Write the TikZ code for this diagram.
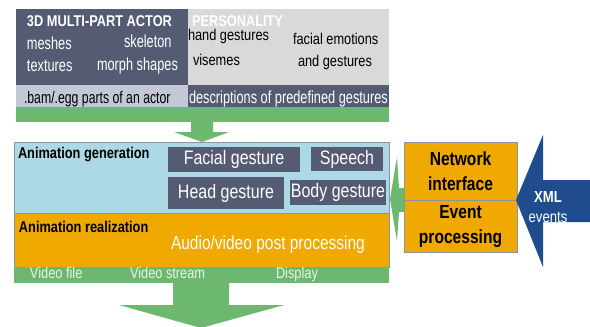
\documentclass[tikz,border=0pt]{standalone}
\usepackage{fontspec}
\setmainfont{Liberation Sans}[FakeStretch=0.82]
\newfontfamily\narrowf{Liberation Sans}[FakeStretch=0.73]
\definecolor{slate}{HTML}{545B73}
\definecolor{lgray}{HTML}{D9D9D9}
\definecolor{lbar}{HTML}{C4C7D6}
\definecolor{grn}{HTML}{6BB86E}
\definecolor{lblue}{HTML}{ADD9E6}
\definecolor{orng}{HTML}{EFA900}
\definecolor{navy}{HTML}{1E4C8C}
\definecolor{edge}{HTML}{8C94A4}
\definecolor{bandtxt}{HTML}{E6F4E6}
\newcommand\fsn{\fontsize{15.6}{18}\selectfont}
\newcommand\fsc{\narrowf\fontsize{17.5}{20}\selectfont}
\newcommand\fsl{\fontsize{19.5}{22}\selectfont}
\begin{document}
\begin{tikzpicture}[x=1pt,y=-1pt,
  box/.style={inner sep=0pt, outer sep=0pt, anchor=north west},
  txt/.style={inner sep=0pt, outer sep=0pt, anchor=base west, font=\fsn},
  ctxt/.style={txt, font=\fsc},
  gbox/.style={box, fill=slate, text=white, font=\fsl},
  obox/.style={box, fill=orng, draw=edge, line width=0.7pt, font=\fontsize{19}{25}\selectfont\bfseries, align=center}]
\useasboundingbox (0,0) rectangle (590,327);
\fill[white] (0,0) rectangle (590,327);
% top section
\node[box, fill=slate, minimum width=172pt, minimum height=76pt] (actor) at (16,9) {};
\node[box, fill=lgray, minimum width=201pt, minimum height=76pt] (pers) at (188,9) {};
\node[box, fill=lbar, minimum width=172pt, minimum height=22pt] (bar1) at (16,85) {};
\node[box, fill=slate, minimum width=201pt, minimum height=22pt] (bar2) at (188,85) {};
\node[box, fill=grn, minimum width=373pt, minimum height=15pt] (band1) at (16,107) {};
\node[txt, text=white, font=\fsn\bfseries] (tactor) at (27,26) {3D MULTI-PART ACTOR};
\node[ctxt, text=white] (tmeshes) at (27,49) {meshes};
\node[ctxt, text=white] (tskel) at (124,47) {skeleton};
\node[ctxt, text=white] (ttex) at (27,71) {textures};
\node[ctxt, text=white] (tmorph) at (97,70) {morph shapes};
\node[ctxt, font=\narrowf\fontsize{16.8}{20}\selectfont] (tbam) at (24,103) {.bam/.egg parts of an actor};
\node[txt, text=white, font=\fsn\bfseries] (tpers) at (192,26) {PERSONALITY};
\node[txt] (thand) at (188,40) {hand gestures};
\node[txt] (tvis) at (193,65) {visemes};
\node[txt] (tfac) at (293,44) {facial emotions};
\node[txt] (tand) at (298,66) {and gestures};
\node[ctxt, text=white] (tdesc) at (189,103) {descriptions of predefined gestures};
% top arrow
\fill[grn] (191,121) -- (213,121) -- (213,132) -- (229,132) -- (202,142) -- (174,132) -- (191,132) -- cycle;
% main block
\node[box, fill=lblue, draw=edge, line width=0.7pt, minimum width=375pt, minimum height=71pt] (gen) at (14,142) {};
\node[box, fill=orng, draw=edge, line width=0.7pt, minimum width=375pt, minimum height=54pt] (real) at (14,213) {};
\node[box, fill=grn, minimum width=375pt, minimum height=16pt] (band2) at (14,267) {};
\node[gbox, minimum width=132pt, minimum height=25pt] (facial) at (168,147) {Facial gesture};
\node[gbox, minimum width=72pt, minimum height=24pt] (speech) at (311,147) {Speech};
\node[gbox, minimum width=116pt, minimum height=32pt] (head) at (168,177) {Head gesture};
\node[gbox, minimum width=96pt, minimum height=25pt] (body) at (290,180) {Body gesture};
\node[txt, font=\fsn\bfseries] (tgen) at (18,158) {Animation generation};
\node[txt, font=\fsn\bfseries] (treal) at (19,232) {Animation realization};
\node[txt, text=white, font=\fontsize{18.9}{22}\selectfont] (taudio) at (171,249) {Audio/video post processing};
\node[txt, text=bandtxt] (tvf) at (30,278) {Video file};
\node[txt, text=bandtxt] (tvs) at (130,278) {Video stream};
\node[txt, text=bandtxt] (tdisp) at (276,278) {Display};
% bottom arrow
\fill[grn] (173,283) -- (229,283) -- (229,305) -- (284,305) -- (201,328) -- (119,305) -- (173,305) -- cycle;
% right side
\node[obox, minimum width=113pt, minimum height=58pt] (net) at (404,142) {Network\\interface};
\node[obox, minimum width=113pt, minimum height=52pt] (evt) at (404,200) {Event\\processing};
\fill[grn] (404,188) -- (399,188) -- (397,157) -- (390,199) -- (397,241) -- (399,212) -- (404,212) -- cycle;
\fill[navy] (590,180) -- (543,180) -- (543,135) -- (516,200) -- (543,267) -- (543,222) -- (590,222) -- cycle;
\node[inner sep=0pt, text=white, align=center, font=\fontsize{16}{20}\selectfont] (xml) at (548,207) {\textbf{XML}\\events};
\end{tikzpicture}
\end{document}
